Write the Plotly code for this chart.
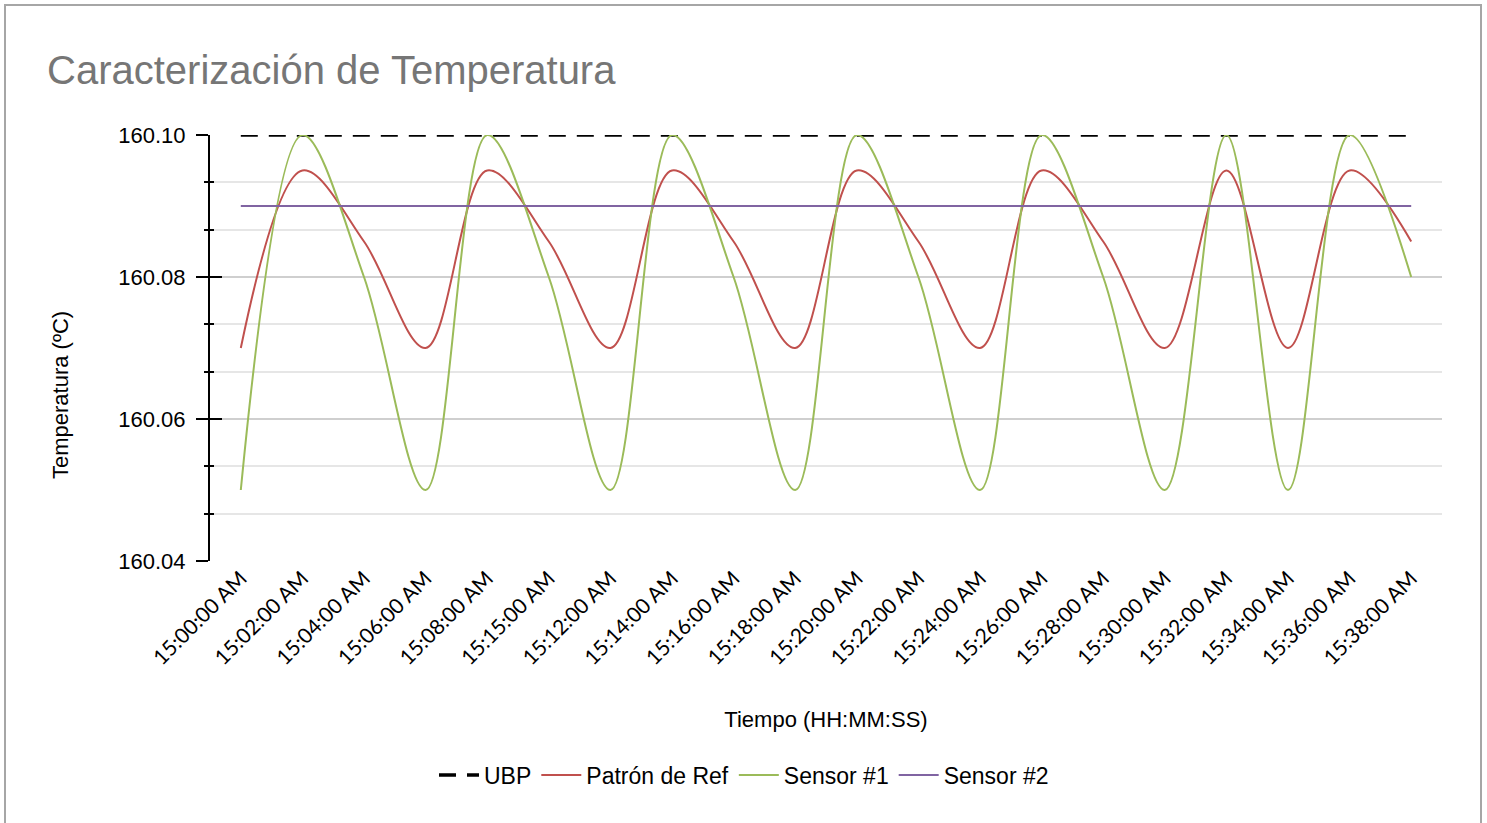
import plotly.graph_objects as go

categories = ["15:00:00 AM", "15:02:00 AM", "15:04:00 AM", "15:06:00 AM", "15:08:00 AM",
              "15:15:00 AM", "15:12:00 AM", "15:14:00 AM", "15:16:00 AM", "15:18:00 AM",
              "15:20:00 AM", "15:22:00 AM", "15:24:00 AM", "15:26:00 AM", "15:28:00 AM",
              "15:30:00 AM", "15:32:00 AM", "15:34:00 AM", "15:36:00 AM", "15:38:00 AM"]

ubp = [160.10] * 20
patron_ref = [160.070, 160.095, 160.085, 160.070, 160.095, 160.085, 160.070, 160.095, 160.085, 160.070,
              160.095, 160.085, 160.070, 160.095, 160.085, 160.070, 160.095, 160.070, 160.095, 160.085]
sensor1 = [160.05, 160.10, 160.08, 160.05, 160.10, 160.08, 160.05, 160.10, 160.08, 160.05,
           160.10, 160.08, 160.05, 160.10, 160.08, 160.05, 160.10, 160.05, 160.10, 160.08]
sensor2 = [160.09] * 20

y_major = [160.04, 160.06, 160.08, 160.10]
y_minor = [160.04 + k * 0.02 / 3 for k in range(10)]

W, H = 1487, 823
L, R, T, B = 210, 45, 135, 262
pw, ph = W - L - R, H - T - B

xi = list(range(len(categories)))

fig = go.Figure()
fig.add_trace(go.Scatter(x=xi, y=ubp, name="UBP", mode="lines",
                         line=dict(color="black", width=3.5, dash="17px,11px")))
fig.add_trace(go.Scatter(x=xi, y=patron_ref, name="Patrón de Ref", mode="lines",
                         line=dict(color="#C0504D", width=2, shape="spline", smoothing=1)))
fig.add_trace(go.Scatter(x=xi, y=sensor1, name="Sensor #1", mode="lines",
                         line=dict(color="#9BBB59", width=2, shape="spline", smoothing=1)))
fig.add_trace(go.Scatter(x=xi, y=sensor2, name="Sensor #2", mode="lines",
                         line=dict(color="#8064A2", width=2)))
# helper trace so the overlay axis (inside half of the crossing ticks) is drawn
fig.add_trace(go.Scatter(x=[], y=[], yaxis="y2", showlegend=False, hoverinfo="skip"))

fig.update_layout(
    width=W, height=H,
    margin=dict(l=L, r=R, t=T, b=B),
    paper_bgcolor="white", plot_bgcolor="white",
    font=dict(family="Liberation Sans, Arial, sans-serif", color="black"),
    title=dict(text="Caracterización de Temperatura", x=47 / W, xanchor="left",
               xref="container", y=1 - 70 / H, yanchor="middle",
               font=dict(size=40, color="#767676", family="Liberation Sans, Arial, sans-serif")),
    xaxis=dict(range=[-0.5, len(categories) - 0.5], tickmode="array", tickvals=xi,
               ticktext=categories, tickangle=-45, showgrid=False, zeroline=False,
               showline=False, ticks="",
               tickfont=dict(family="Lato, sans-serif", size=21, color="black"),
               title=dict(text="Tiempo (HH:MM:SS)", standoff=43,
                          font=dict(size=22, color="black"))),
    yaxis=dict(range=[160.04, 160.10], tickmode="array", tickvals=y_major,
               tickformat=".2f", showgrid=True, gridcolor="#cfcfcf", gridwidth=2,
               zeroline=False, showline=True, linecolor="black", linewidth=2,
               ticks="outside", ticklen=12, tickwidth=2, tickcolor="black",
               tickfont=dict(size=22, color="black"), ticklabelstandoff=6,
               minor=dict(tickmode="array", tickvals=y_minor, showgrid=True,
                          gridcolor="#e6e6e6", gridwidth=2, ticks="outside",
                          ticklen=4, tickwidth=2, tickcolor="black")),
    yaxis2=dict(range=[160.04, 160.10], overlaying="y", side="left", anchor="x",
                tickmode="array", tickvals=y_major, showticklabels=False,
                showgrid=False, zeroline=False, showline=False,
                ticks="inside", ticklen=12, tickwidth=2, tickcolor="black",
                minor=dict(tickmode="array", tickvals=y_minor, ticks="inside",
                           ticklen=4, tickwidth=2, tickcolor="black", showgrid=False)),
    legend=dict(orientation="h", x=(744 - L) / pw,
                xanchor="center", y=(561 - 775) / ph, yanchor="middle",
                font=dict(size=23, color="black"), itemwidth=40,
                traceorder="normal", bgcolor="rgba(0,0,0,0)"),
    showlegend=True,
    annotations=[dict(text="Temperatura (ºC)", textangle=-90, xref="paper", yref="paper",
                      x=(61 - L) / pw, y=(561 - 395) / ph, xanchor="center", yanchor="middle",
                      showarrow=False, font=dict(size=22, color="black"))],
    shapes=[dict(type="rect", xref="paper", yref="paper",
                 x0=(5 - L) / pw, x1=(1481 - L) / pw, y0=(561 - 840) / ph, y1=(561 - 5) / ph,
                 line=dict(color="#a6a6a6", width=2), fillcolor="rgba(0,0,0,0)", layer="below")],
)

fig.write_html("out.html", config={"displayModeBar": False},
               post_script="document.body.style.margin='0px';")
